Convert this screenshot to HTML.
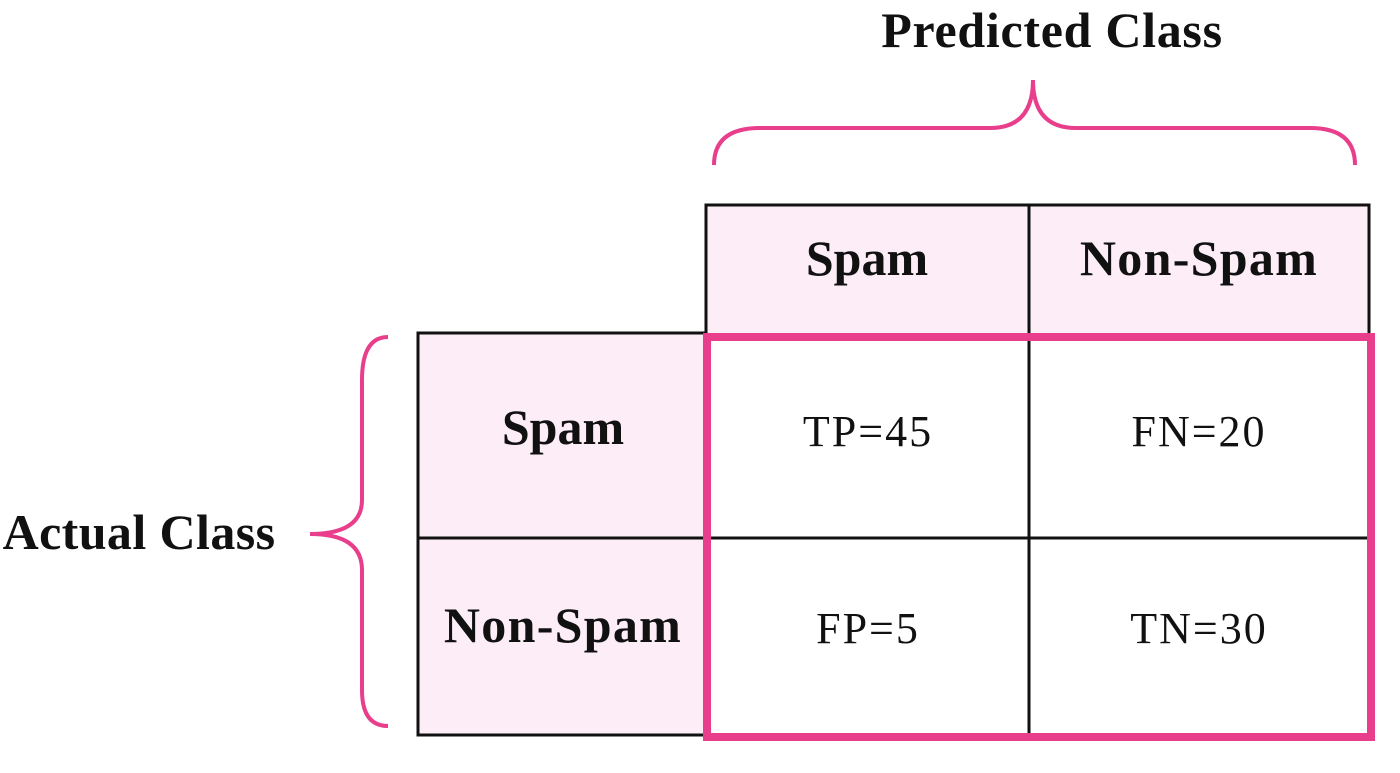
<!DOCTYPE html>
<html><head><meta charset="utf-8"><style>
html,body{margin:0;padding:0;background:#fff;width:1400px;height:773px;overflow:hidden}
svg{display:block}
.b{font-family:"Liberation Serif",serif;font-weight:bold;font-size:50px;fill:#111}
.r{font-family:"Liberation Serif",serif;font-size:44px;fill:#111;letter-spacing:2px}
</style></head><body>
<svg width="1400" height="773" viewBox="0 0 1400 773">
<text class="b" x="1052" y="47" text-anchor="middle" letter-spacing="0.7">Predicted Class</text>
<path d="M714,165 Q714,128 760,128 L990,128 Q1033,128 1033,80 Q1033,128 1076,128 L1310,128 Q1355,128 1355,165" fill="none" stroke="#e83e8c" stroke-width="4"/>
<text class="b" x="139" y="549" text-anchor="middle" letter-spacing="0.4">Actual Class</text>
<path d="M388,337 Q362,337 362,380 L362,500 Q362,534 310,534 Q362,534 362,570 L362,690 Q362,726 388,726" fill="none" stroke="#e83e8c" stroke-width="4"/>
<g>
<rect x="706" y="205" width="663" height="130" fill="#fcedf7" stroke="#111" stroke-width="3"/>
<line x1="1029" y1="205" x2="1029" y2="335" stroke="#111" stroke-width="3"/>
<text class="b" x="867" y="275" text-anchor="middle">Spam</text>
<text class="b" x="1199" y="275" text-anchor="middle" letter-spacing="1.3">Non-Spam</text>
</g>
<g>
<rect x="418" y="333" width="288" height="402" fill="#fcedf7" stroke="#111" stroke-width="3"/>
<line x1="418" y1="538" x2="706" y2="538" stroke="#111" stroke-width="3"/>
<text class="b" x="563" y="444" text-anchor="middle">Spam</text>
<text class="b" x="563" y="642" text-anchor="middle" letter-spacing="1.3">Non-Spam</text>
</g>
<line x1="1029" y1="335" x2="1029" y2="737" stroke="#111" stroke-width="3"/>
<line x1="706" y1="538" x2="1369" y2="538" stroke="#111" stroke-width="3"/>
<rect x="707" y="337" width="664" height="400" fill="none" stroke="#e83e8c" stroke-width="8"/>
<text class="r" x="868" y="446" text-anchor="middle">TP=45</text>
<text class="r" x="1199" y="446" text-anchor="middle">FN=20</text>
<text class="r" x="868" y="643" text-anchor="middle">FP=5</text>
<text class="r" x="1199" y="643" text-anchor="middle">TN=30</text>
</svg>
</body></html>
